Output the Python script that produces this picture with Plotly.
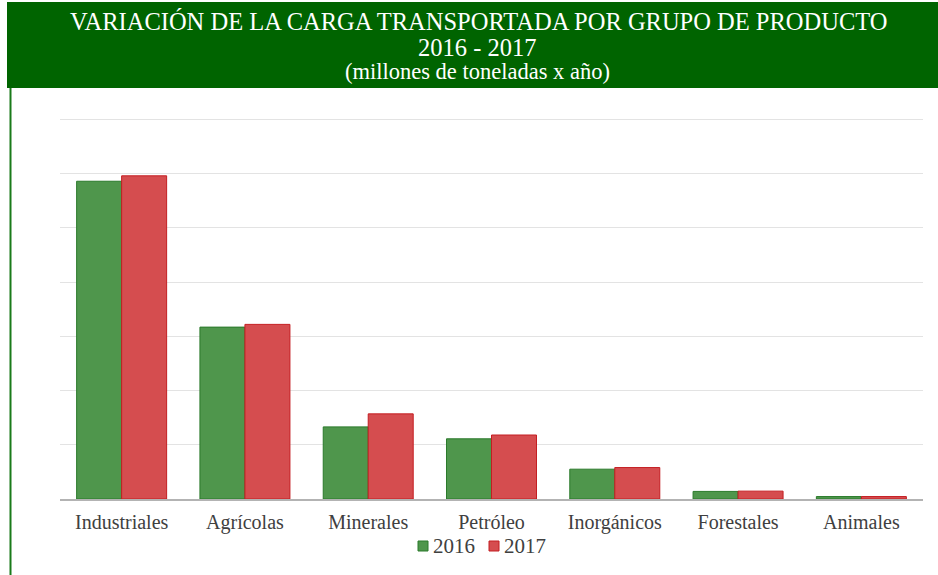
import plotly.graph_objects as go

categories = ["Industriales", "Agrícolas", "Minerales", "Petróleo", "Inorgánicos", "Forestales", "Animales"]
series_names = ["2016", "2017"]
values_2016 = [58.6, 31.7, 13.3, 11.1, 5.5, 1.4, 0.45]
values_2017 = [59.6, 32.2, 15.7, 11.8, 5.8, 1.45, 0.45]
title_lines = ["VARIACIÓN DE LA CARGA TRANSPORTADA POR GRUPO DE PRODUCTO",
               "2016 - 2017",
               "(millones de toneladas x año)"]

W, H = 938, 575
ML, MR, MT, MB = 60, 15, 114, 76
PW = W - ML - MR
PH = H - MT - MB

def px(x):
    return (x - ML) / PW

def py(y):
    return (H - MB - y) / PH

fill_colors = ["#4f964c", "#d54d4f"]
line_colors = ["#2b7a2b", "#c41e22"]

fig = go.Figure()
for name, vals, fc, lc in zip(series_names, [values_2016, values_2017], fill_colors, line_colors):
    fig.add_trace(go.Bar(
        x=categories, y=vals, name=name,
        marker=dict(color=fc, line=dict(color=lc, width=1)),
    ))

font_family = "Liberation Serif"

shapes = [
    dict(type="rect", xref="paper", yref="paper", x0=px(7), x1=px(940), y0=py(88), y1=py(2),
         fillcolor="#006400", line=dict(width=0), layer="above"),
    dict(type="line", xref="paper", yref="paper", x0=px(10.5), x1=px(10.5), y0=py(88), y1=py(578),
         line=dict(color="#1a7a1a", width=2)),
    # small interruptions of grid lines seen in the original
    dict(type="rect", xref="paper", yref="paper", x0=px(319), x1=px(436), y0=py(392), y1=py(388),
         fillcolor="white", line=dict(width=0), layer="between"),
    dict(type="rect", xref="paper", yref="paper", x0=px(585), x1=px(638), y0=py(446.5), y1=py(442.5),
         fillcolor="white", line=dict(width=0), layer="between"),
    # legend swatches
    dict(type="rect", xref="paper", yref="paper", x0=px(418), x1=px(428), y0=py(551), y1=py(541),
         fillcolor=fill_colors[0], line=dict(color=line_colors[0], width=1)),
    dict(type="rect", xref="paper", yref="paper", x0=px(489), x1=px(499), y0=py(551), y1=py(541),
         fillcolor=fill_colors[1], line=dict(color=line_colors[1], width=1)),
]

annotations = [
    dict(text=title_lines[0], x=px(478), y=py(21),
         xref="paper", yref="paper", showarrow=False, xanchor="center", yanchor="middle",
         font=dict(family=font_family, size=24.5, color="white")),
    dict(text=title_lines[1], x=px(477), y=py(47),
         xref="paper", yref="paper", showarrow=False, xanchor="center", yanchor="middle",
         font=dict(family=font_family, size=24.5, color="white")),
    dict(text=title_lines[2], x=px(477), y=py(72),
         xref="paper", yref="paper", showarrow=False, xanchor="center", yanchor="middle",
         font=dict(family=font_family, size=22.5, color="white")),
    dict(text=series_names[0], x=px(431), y=py(546),
         xref="paper", yref="paper", showarrow=False, xanchor="left", yanchor="middle",
         font=dict(family=font_family, size=21, color="#404040")),
    dict(text=series_names[1], x=px(502), y=py(546),
         xref="paper", yref="paper", showarrow=False, xanchor="left", yanchor="middle",
         font=dict(family=font_family, size=21, color="#404040")),
]

fig.update_layout(
    width=W, height=H,
    margin=dict(l=ML, r=MR, t=MT, b=MB, pad=0),
    paper_bgcolor="white", plot_bgcolor="white",
    barmode="group", bargap=0.27, bargroupgap=0,
    font=dict(family=font_family, color="#404040", size=20),
    showlegend=False,
    shapes=shapes,
    annotations=annotations,
    xaxis=dict(showgrid=False, showline=True, linecolor="#b3b3b3", linewidth=1.5,
               ticks="", tickfont=dict(family=font_family, size=20, color="#404040"),
               ticklabelstandoff=4, fixedrange=True),
    yaxis=dict(range=[0, 71], dtick=10, showgrid=True, gridcolor="#e3e3e3", gridwidth=1,
               showticklabels=False, zeroline=False, showline=False, ticks="", fixedrange=True),
)

fig.write_html("out.html", config={"displayModeBar": False},
               post_script="document.body.style.margin='0';document.body.style.overflow='hidden';")
